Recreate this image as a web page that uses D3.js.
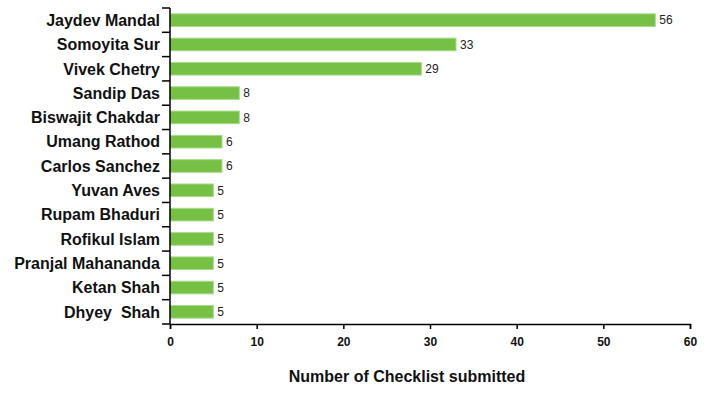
<!DOCTYPE html>
<html><head><meta charset="utf-8">
<script src="https://cdn.jsdelivr.net/npm/d3@7"></script>
<style>body{margin:0;background:#fff}svg text{font-family:"Liberation Sans",Arial,sans-serif}</style>
</head><body><svg id="c" width="710" height="399"></svg>
<script>
const names = ["Jaydev Mandal","Somoyita Sur","Vivek Chetry","Sandip Das","Biswajit Chakdar","Umang Rathod","Carlos Sanchez","Yuvan Aves","Rupam Bhaduri","Rofikul Islam","Pranjal Mahananda","Ketan Shah","Dhyey  Shah"];
const counts = [56,33,29,8,8,6,6,5,5,5,5,5,5];
const xTicks = [0,10,20,30,40,50,60];
const xTitle = "Number of Checklist submitted";

const svg = d3.select("#c");
const m = {l:170, t:8};
const x = d3.scaleLinear().domain([0,60]).range([m.l, 690]);
const y = d3.scaleBand().domain(names).range([m.t, 324]).paddingInner(0.48).paddingOuter(0.24);

svg.selectAll("rect.bar").data(names).join("rect")
  .attr("x", x(0)).attr("y", d=>y(d))
  .attr("width", (d,i)=>x(counts[i])-x(0)).attr("height", y.bandwidth())
  .attr("fill", "#76c043").attr("stroke","#a9db8f").attr("stroke-width",1);

svg.selectAll("text.val").data(names).join("text")
  .attr("x", (d,i)=>x(counts[i])+4).attr("y", d=>y(d)+y.bandwidth()/2)
  .attr("dy","0.36em").attr("font-size",12).attr("fill","#222")
  .text((d,i)=>counts[i]);

const xa = svg.append("g").attr("transform",`translate(0,324)`)
  .call(d3.axisBottom(x).tickValues(xTicks).tickSize(5).tickPadding(8));
xa.select(".domain").attr("stroke","#000").attr("stroke-width",1.5);
xa.selectAll(".tick line").attr("stroke","#000").attr("stroke-width",1.5);
xa.selectAll(".tick text").attr("font-size",12).attr("font-weight","bold").attr("fill","#111")
  .attr("font-family","Liberation Sans, Arial, sans-serif");

const ya = svg.append("g");
ya.append("line").attr("x1",x(0)).attr("x2",x(0)).attr("y1",m.t).attr("y2",324).attr("stroke","#000").attr("stroke-width",1.5);
const bounds = d3.range(names.length+1).map(i=>m.t + i*(316/names.length));
ya.selectAll("line.tk").data(bounds).join("line")
  .attr("x1",x(0)-8).attr("x2",x(0)).attr("y1",d=>d).attr("y2",d=>d)
  .attr("stroke","#000").attr("stroke-width",1.5);

svg.selectAll("text.cat").data(names).join("text")
  .attr("x", 160).attr("y", d=>y(d)+y.bandwidth()/2).attr("dy","0.36em")
  .attr("text-anchor","end").attr("font-size",16).attr("font-weight","bold").attr("fill","#111")
  .style("white-space","pre").text(d=>d);

svg.append("text").attr("x",407).attr("y",382).attr("text-anchor","middle")
  .attr("font-size",16).attr("font-weight","bold").attr("fill","#111").text(xTitle);
</script></body></html>
